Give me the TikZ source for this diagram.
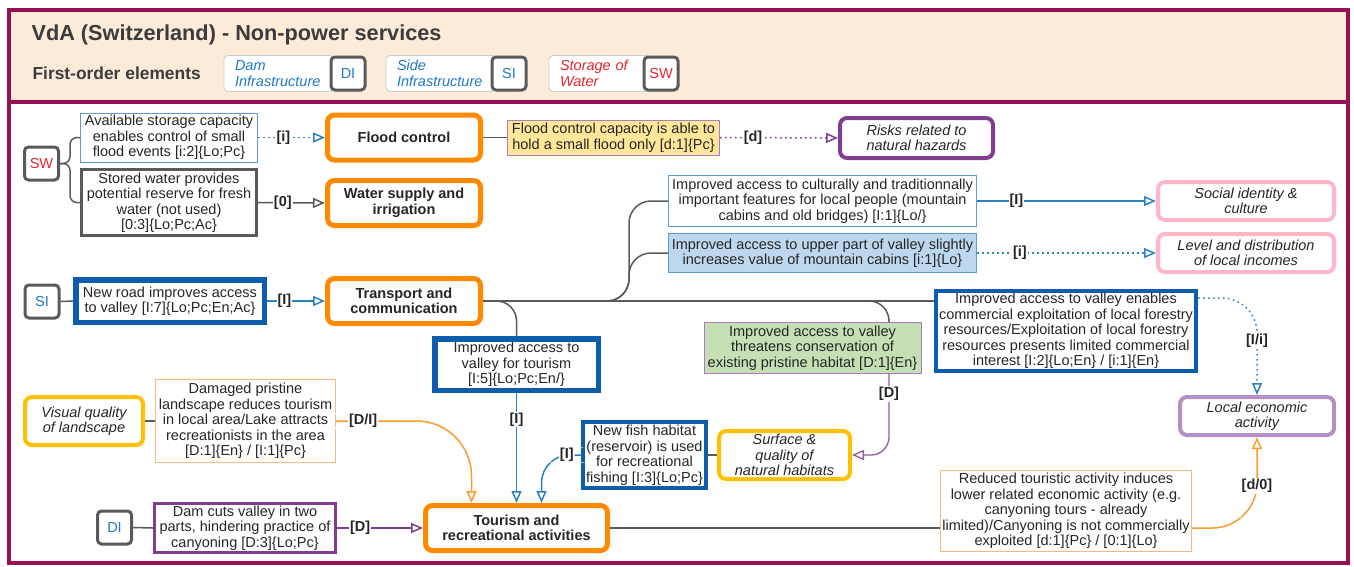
\documentclass[tikz,border=0pt]{standalone}
\usepackage{fontspec}
\setmainfont{Liberation Sans}
\usetikzlibrary{arrows.meta,calc}

\definecolor{framecol}{HTML}{990F55}
\definecolor{headbg}{HTML}{FCEBD9}
\definecolor{orng}{HTML}{FF8A00}
\definecolor{dblue}{HTML}{0C5DAE}
\definecolor{lblue}{HTML}{5B9BD5}
\definecolor{ablue}{HTML}{2B83C6}
\definecolor{fillblue}{HTML}{BDD7EE}
\definecolor{fillyel}{HTML}{FFE699}
\definecolor{fillgreen}{HTML}{C5E0B4}
\definecolor{purp}{HTML}{7F3F8E}
\definecolor{lpurp}{HTML}{B07CC0}
\definecolor{mauve}{HTML}{B690C4}
\definecolor{pinkb}{HTML}{FFB6C8}
\definecolor{yel}{HTML}{FFC000}
\definecolor{lorange}{HTML}{F8B87E}
\definecolor{aorange}{HTML}{FF9A2E}
\definecolor{gry}{HTML}{5A5A5A}
\definecolor{txt}{HTML}{262626}
\definecolor{redtxt}{HTML}{E3262D}
\definecolor{bluetxt}{HTML}{1F78C8}

\newcommand{\txtsize}{\fontsize{14.5}{15.5}\selectfont}

\tikzset{
  box/.style={draw, fill=white, align=center, inner sep=0pt, font=\txtsize, text=txt},
  wh/.style 2 args={minimum width=#1pt, minimum height=#2pt},
  service/.style={box, draw=orng, line width=5pt, rounded corners=7pt, font=\bfseries\txtsize},
  element/.style={box, draw=gry, line width=3pt, rounded corners=4pt, minimum width=34pt, minimum height=33pt},
  strong/.style={box, draw=dblue, line width=5.5pt},
  medium/.style={box, draw=dblue, line width=4pt},
  thinblue/.style={box, draw=lblue, line width=1pt},
  greybox/.style={box, draw=gry, line width=3pt},
  receptor/.style={box, line width=4pt, rounded corners=7pt, font=\itshape\txtsize},
  legbox/.style={draw=black!20, line width=0.8pt, fill=white, rounded corners=4pt,
                 align=left, inner xsep=11pt, inner ysep=0pt, minimum height=36pt, font=\itshape\txtsize},
  lab/.style={fill=white, inner sep=1pt, font=\bfseries\txtsize, text=txt},
  conn/.style={draw=gry, line width=1.5pt},
  arrowed/.style={-{Triangle[length=12pt,width=10pt,fill=white]}},
  bluearr/.style={draw=ablue, line width=1.5pt, arrowed},
  bluedot/.style={bluearr, dash pattern=on 1.5pt off 3.5pt},
  purparr/.style={draw=purp, line width=1.5pt, arrowed},
  purpdot/.style={purparr, dash pattern=on 1.5pt off 3.5pt},
  greyarr/.style={draw=gry, line width=1.5pt, arrowed},
  orangearr/.style={draw=aorange, line width=1.5pt, arrowed},
}

\begin{document}
\begin{tikzpicture}[x=1pt,y=-1pt]
\useasboundingbox (0,0) rectangle (1354,566);

% frame and header band
\fill[headbg] (9,10) rectangle (1348,102);
\draw[framecol, line width=4.5pt] (9,10) rectangle (1348,563);
\draw[framecol, line width=4.5pt] (9,102) -- (1348,102);

\node[anchor=west, font=\bfseries\fontsize{21.7}{24}\selectfont, text=txt!90] (title) at (28,35) {VdA (Switzerland) - Non-power services};
\node[anchor=west, font=\bfseries\fontsize{17.4}{20}\selectfont, text=txt!90] (firstorder) at (29,73) {First-order elements};

% legend of first-order elements
\node[legbox, text width=88pt, text=bluetxt] (legdi) at (279,73.5) {Dam\\Infrastructure};
\node[element, text=bluetxt] (keydi) at (348,73.5) {DI};
\node[legbox, text width=88pt, text=bluetxt] (legsi) at (441,73.5) {Side\\Infrastructure};
\node[element, text=bluetxt] (keysi) at (509,73.5) {SI};
\node[legbox, text width=80pt, text=redtxt] (legsw) at (600,73.5) {Storage of\\Water};
\node[element, text=redtxt] (keysw) at (661,73.5) {SW};

% first-order elements
\node[element, text=redtxt] (sw) at (41.5,163.5) {SW};
\node[element, text=bluetxt] (si) at (42,301.5) {SI};
\node[element, text=bluetxt] (di) at (114.5,527.5) {DI};

% impact boxes
\node[thinblue, wh={177}{49}] (avail) at (169,137.5) {Available storage capacity\\enables control of small\\flood events [i:2]\{Lo;Pc\}};
\node[greybox, wh={175}{66}] (stored) at (169,202.5) {Stored water provides\\potential reserve for fresh\\water (not used)\\\relax[0:3]\{Lo;Pc;Ac\}};
\node[box, draw=lpurp, fill=fillyel, line width=1pt, wh={212}{35}] (fcap) at (613.5,137.5) {Flood control capacity is able to\\hold a small flood only [d:1]\{Pc\}};
\node[thinblue, wh={308}{51}] (cultural) at (822.5,201) {Improved access to culturally and traditionnally\\important features for local people (mountain\\cabins and old bridges) [I:1]\{Lo/\}};
\node[thinblue, fill=fillblue, wh={308}{39}] (upper) at (822.5,253) {Improved access to upper part of valley slightly\\increases value of mountain cabins [i:1]\{Lo\}};
\node[strong, wh={188.5}{42.5}] (newroad) at (170,301) {New road improves access\\to valley [I:7]\{Lo;Pc;En;Ac\}};
\node[strong, wh={163.5}{51.5}] (tacc) at (516.5,364.5) {Improved access to\\valley for tourism\\\relax[I:5]\{Lo;Pc;En/\}};
\node[box, draw=lpurp, fill=fillgreen, line width=1pt, wh={217}{51}] (green) at (812.5,348) {Improved access to valley\\threatens conservation of\\existing pristine habitat [D:1]\{En\}};
\node[medium, wh={260}{80}] (enables) at (1066,331) {Improved access to valley enables\\commercial exploitation of local forestry\\resources/Exploitation of local forestry\\resources presents limited commercial\\interest [I:2]\{Lo;En\} / [i:1]\{En\}};
\node[box, draw=lorange, line width=1pt, wh={180}{83}] (damaged) at (245.5,421) {Damaged pristine\\landscape reduces tourism\\in local area/Lake attracts\\recreationists in the area\\\relax[D:1]\{En\} / [I:1]\{Pc\}};
\node[medium, wh={123}{66}] (fish) at (644.5,455) {New fish habitat\\(reservoir) is used\\for recreational\\fishing [I:3]\{Lo;Pc\}};
\node[box, draw=purp, line width=3pt, wh={181}{49}] (damcuts) at (245,528) {Dam cuts valley in two\\parts, hindering practice of\\canyoning [D:3]\{Lo;Pc\}};
\node[box, draw=lorange, line width=1pt, wh={251}{81}] (reduced) at (1066,511) {Reduced touristic activity induces\\lower related economic activity (e.g.\\canyoning tours - already\\limited)/Canyoning is not commercially\\exploited [d:1]\{Pc\} / [0:1]\{Lo\}};

% services
\node[service, wh={153}{45}] (flood) at (404,137.5) {Flood control};
\node[service, wh={153}{45}] (water) at (404,203) {Water supply and\\irrigation};
\node[service, wh={153}{45}] (transport) at (404,301) {Transport and\\communication};
\node[service, wh={182}{45}] (tourism) at (516.5,528) {Tourism and\\recreational activities};

% receptors
\node[receptor, draw=purp, wh={153}{40}] (risks) at (916.5,138) {Risks related to\\natural hazards};
\node[receptor, draw=pinkb, wh={176}{38}] (social) at (1246,201) {Social identity \&\\culture};
\node[receptor, draw=pinkb, wh={176}{38}] (level) at (1246,253) {Level and distribution\\of local incomes};
\node[receptor, draw=mauve, wh={154}{38}] (local) at (1257,416) {Local economic\\activity};
\node[receptor, draw=yel, wh={118}{48}] (visual) at (84,421) {Visual quality\\of landscape};
\node[receptor, draw=yel, wh={131}{48}] (surface) at (784.5,455) {Surface \&\\quality of\\natural habitats};

% branch points
\coordinate (bx) at (629,0);
\coordinate (gx) at (889,0);

% storage of water
\draw[conn, rounded corners=7pt] (sw.east) -- ++(10,0) |- (avail.west);
\draw[conn, rounded corners=7pt] (sw.east) -- ++(10,0) |- (stored.west);
\draw[bluedot] (avail.east) -- node[lab, pos=0.38] {[i]} (flood.west);
\draw[greyarr] (stored.east) -- node[lab, pos=0.37] {[0]} (water.west);
\draw[conn] (flood.east) -- (fcap.west);
\draw[purpdot] (fcap.east) -- node[lab, pos=0.28] {[d]} (risks.west);

% side infrastructure and transport
\draw[conn] (si.east) -- (newroad.west);
\draw[bluearr] (newroad.east) -- node[lab, pos=0.3] {[I]} (transport.west);
\draw[conn] (transport.east) -- (enables.west |- transport.east);
\draw[conn, rounded corners=22pt] (transport.east) -| (bx |- cultural.west) -- (cultural.west);
\draw[conn, rounded corners=22pt] (transport.east) -| (bx |- upper.west) -- (upper.west);
\draw[conn, rounded corners=20pt] (transport.east) -| (tacc.north);
\draw[conn, rounded corners=20pt] (transport.east) -| (gx |- green.north);
\draw[bluearr] (cultural.east) -- node[lab, pos=0.22] {[I]} (social.west);
\draw[bluedot] (upper.east) -- node[lab, pos=0.24] {[i]} (level.west);
\draw[bluedot, rounded corners=35pt] ($(enables.north east)+(0,9)$) -| node[lab, pos=0.72] {[I/i]} (local.north);
\draw[bluearr] (tacc.south) -- node[lab, pos=0.24] {[I]} (tourism.north);
\draw[draw=purp!85, line width=1.3pt, arrowed, rounded corners=18pt] (gx |- green.south) -- node[lab] {[D]} ++(0,40) |- (surface.east);

% habitats and fishing
\draw[conn] (fish.east) -- (surface.west);
\draw[bluearr, rounded corners=28pt] (fish.west) -| node[lab, pos=0.18] {[I]} ($(tourism.north)+(25,0)$);

% landscape
\draw[conn] (visual.east) -- (damaged.west);
\draw[orangearr, rounded corners=55pt] (damaged.east) -| node[lab, pos=0.1] {[D/I]} ($(tourism.north)+(-45,0)$);

% dam infrastructure
\draw[conn] (di.east) -- (damcuts.west);
\draw[purparr] (damcuts.east) -- node[lab, pos=0.27] {[D]} (tourism.west);

% tourism to local economy
\draw[conn] (tourism.east) -- (reduced.west |- tourism.east);
\draw[orangearr, rounded corners=45pt] (reduced.east |- tourism.east) -| node[lab, pos=0.73] {[d/0]} (local.south);

\end{tikzpicture}
\end{document}
